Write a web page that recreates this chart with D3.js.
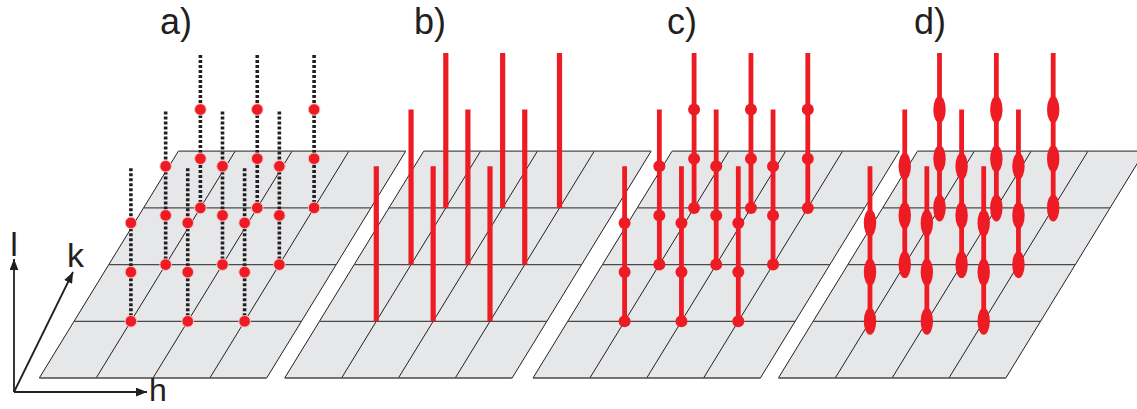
<!DOCTYPE html>
<html>
<head>
<meta charset="utf-8">
<script src="https://cdn.jsdelivr.net/npm/d3@7/dist/d3.min.js"></script>
<style>
  html, body { margin: 0; padding: 0; background: #fff; }
  svg { display: block; }
</style>
</head>
<body>
<svg id="chart" width="1137" height="409"></svg>
<script>
// Reciprocal-lattice sketch: four panels on an (h, k) plane with l rising upward.
const panelLabels = ["a)", "b)", "c)", "d)"];
const panelKinds  = ["dotted", "rod", "rodDot", "rodEllipse"];
const gridCells   = [0, 1, 2, 3, 4];     // grid line indices along h and k
const hIndices    = [1, 2, 3];           // occupied h positions
const kIndices    = [1, 2, 3];           // occupied k positions
const lLevels     = [0, 1, 2];           // discrete l points on each rod
const lRodTop     = 3.15;                // rod / guide line extent in l units
const axisLabels  = ["h", "k", "l"];

// Layout
const W = 1137, H = 409;
const layout = {
  panelX0: [39.3, 284.7, 533, 778.4],
  baseY: 378,
  labelX: [160, 414, 667, 914],
  labelY: 34
};
const RED = "#ed1c24", INK = "#231f20", FILL = "#e6e7e8";

const hScale  = d3.scaleLinear().domain([0, 4]).range([0, 227.4]);
const kxScale = d3.scaleLinear().domain([0, 4]).range([0, 139]);
const kyScale = d3.scaleLinear().domain([0, 4]).range([0, -226.8]);
const lScale  = d3.scaleLinear().domain([0, 1]).range([0, -49.2]);

function project(p, h, k, l) {
  return [layout.panelX0[p] + hScale(h) + kxScale(k),
          layout.baseY + kyScale(k) + lScale(l)];
}

const svg = d3.select("#chart");

// Reflection list: every (h, k) site, drawn back row first
const sites = [];
kIndices.slice().sort((a, b) => b - a).forEach(k => {
  hIndices.forEach(h => sites.push({ h, k }));
});

// ---- planes ----
panelKinds.forEach((kind, p) => {
  const g = svg.append("g").attr("class", "plane");
  const corners = [[0, 0], [4, 0], [4, 4], [0, 4]].map(([h, k]) => project(p, h, k, 0));
  g.append("polygon")
    .attr("points", corners.map(c => c.join(",")).join(" "))
    .attr("fill", FILL);
  // slanted lines (constant h)
  gridCells.forEach(h => {
    const a = project(p, h, 0, 0), b = project(p, h, 4, 0);
    g.append("line").attr("x1", a[0]).attr("y1", a[1]).attr("x2", b[0]).attr("y2", b[1])
      .attr("stroke", INK).attr("stroke-width", 1);
  });
  // horizontal lines (constant k)
  gridCells.forEach(k => {
    const a = project(p, 0, k, 0), b = project(p, 4, k, 0);
    g.append("line").attr("x1", a[0]).attr("y1", a[1]).attr("x2", b[0]).attr("y2", b[1])
      .attr("stroke", "#4a4a4a").attr("stroke-width", 1.3);
  });
});

// ---- reflections / rods ----
panelKinds.forEach((kind, p) => {
  const g = svg.append("g").attr("class", "marks-" + kind);
  sites.forEach(({ h, k }) => {
    const base = project(p, h, k, 0);
    const top = project(p, h, k, lRodTop);
    if (kind === "dotted") {
      g.append("line")
        .attr("x1", base[0]).attr("y1", base[1]).attr("x2", top[0]).attr("y2", top[1])
        .attr("stroke", INK).attr("stroke-width", 3.6)
        .attr("stroke-dasharray", "3 2");
    } else {
      g.append("line")
        .attr("x1", base[0]).attr("y1", base[1]).attr("x2", top[0]).attr("y2", top[1])
        .attr("stroke", RED).attr("stroke-width", kind === "rod" ? 5.2 : 4.8);
    }
    if (kind === "rod") return;
    lLevels.forEach(l => {
      const [x, y] = project(p, h, k, l);
      if (kind === "dotted") {
        g.append("circle").attr("cx", x).attr("cy", y).attr("r", 5.8)
          .attr("fill", RED).attr("stroke", "#f7c4c4").attr("stroke-width", 1);
      } else if (kind === "rodDot") {
        g.append("circle").attr("cx", x).attr("cy", y).attr("r", 6)
          .attr("fill", RED);
      } else {
        g.append("ellipse").attr("cx", x).attr("cy", y).attr("rx", 6.2).attr("ry", 13.5)
          .attr("fill", RED);
      }
    });
  });
});

// ---- panel labels ----
svg.selectAll("text.panel")
  .data(panelLabels)
  .join("text")
  .attr("class", "panel")
  .attr("x", (d, i) => layout.labelX[i])
  .attr("y", layout.labelY)
  .attr("font-family", "Liberation Sans, Arial, sans-serif")
  .attr("font-size", 36)
  .attr("fill", INK)
  .text(d => d);

// ---- h, k, l axes ----
const defs = svg.append("defs");
defs.append("marker")
  .attr("id", "arrow")
  .attr("markerUnits", "userSpaceOnUse")
  .attr("viewBox", "0 0 10 8")
  .attr("refX", 10).attr("refY", 4)
  .attr("markerWidth", 11).attr("markerHeight", 9)
  .attr("orient", "auto")
  .append("path").attr("d", "M0,0 L10,4 L0,8 Z").attr("fill", INK);

const origin = [14, 392];
const axisEnds = { h: [147, 392], k: [73, 272], l: [14, 259] };
const axisLabelPos = {
  h: [149, 401, "start", 32],
  k: [67, 267, "start", 34],
  l: [14, 256, "middle", 34]
};

axisLabels.forEach(name => {
  const end = axisEnds[name];
  svg.append("line")
    .attr("x1", origin[0]).attr("y1", origin[1])
    .attr("x2", end[0]).attr("y2", end[1])
    .attr("stroke", INK).attr("stroke-width", 1.8)
    .attr("marker-end", "url(#arrow)");
  const [lx, ly, anchor, size] = axisLabelPos[name];
  svg.append("text")
    .attr("x", lx).attr("y", ly)
    .attr("text-anchor", anchor)
    .attr("font-family", "Liberation Sans, Arial, sans-serif")
    .attr("font-size", size)
    .attr("fill", INK)
    .text(name);
});
</script>
</body>
</html>
